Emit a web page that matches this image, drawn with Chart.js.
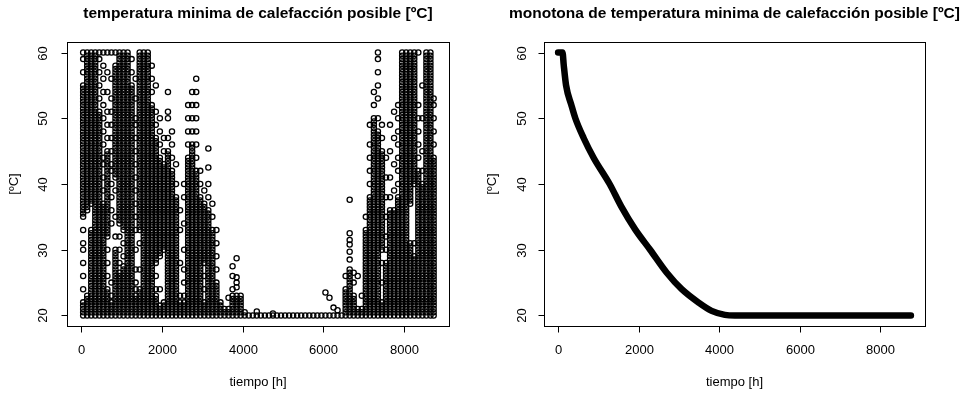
<!DOCTYPE html>
<html>
<head>
<meta charset="utf-8">
<script src="https://cdn.jsdelivr.net/npm/chart.js@4"></script>
<style>
  html, body { margin: 0; padding: 0; background: #fff; }
  #graficos { display: flex; width: 964px; height: 396px; }
  canvas { display: block; }
</style>
</head>
<body>
<div id="graficos">
  <canvas id="gTemp" width="482" height="396"></canvas>
  <canvas id="gMono" width="482" height="396"></canvas>
</div>
<script>
const horas = [50,150,250,350,450,550,650,750,850,950,
  1050,1150,1250,1350,1450,1550,1650,1750,1850,1950,
  2050,2150,2250,2350,2450,2550,2650,2750,2850,2950,
  3050,3150,3250,3350,3450,3550,3650,3750,3850,3950,
  4050,4150,4250,4350,4450,4550,4650,4750,4850,4950,
  5050,5150,5250,5350,5450,5550,5650,5750,5850,5950,
  6050,6150,6250,6350,6450,6550,6650,6750,6850,6950,
  7050,7150,7250,7350,7450,7550,7650,7750,7850,7950,
  8050,8150,8250,8350,8450,8550,8650,8730];

// tramo lleno de puntos entre 20 y 60 ºC
const llena = [20,20.5,21,21.5,22,22.5,23,23.5,24,24.5,25,25.5,26,26.5,27,27.5,28,28.5,29,29.5,30,30.5,31,31.5,32,32.5,33,33.5,34,34.5,35,35.5,36,36.5,37,37.5,38,38.5,39,39.5,40,40.5,41,41.5,42,42.5,43,43.5,44,44.5,45,45.5,46,46.5,47,47.5,48,48.5,49,49.5,50,50.5,51,51.5,52,52.5,53,53.5,54,54.5,55,55.5,56,56.5,57,57.5,58,58.5,59,59.5,60];

const tempMin = [
  [20,20.5,21,21.5,22,24,26,28,30,31,33,35,35.5,36,36.5,37,37.5,38,38.5,39,39.5,40,40.5,41,41.5,42,42.5,43,43.5,44,44.5,45,45.5,46,46.5,47,47.5,48,48.5,49,49.5,50,50.5,51,51.5,52,52.5,53,53.5,54,54.5,55,57,59,60],
  [20,20.5,21,21.5,22,22.5,23,36,36.5,37,37.5,38,38.5,39,39.5,40,40.5,41,41.5,42,42.5,43,43.5,44,44.5,45,45.5,46,46.5,47,47.5,48,48.5,49,49.5,50,50.5,51,51.5,52,52.5,53,53.5,54,54.5,55,55.5,56,56.5,57,57.5,58,58.5,59,59.5,60],
  [20,20.5,21,21.5,22,22.5,23,23.5,24,24.5,25,25.5,26,26.5,27,27.5,28,28.5,29,29.5,30,30.5,31,31.5,32,32.5,33,37,37.5,38,38.5,39,39.5,40,40.5,41,41.5,42,42.5,43,43.5,44,44.5,45,45.5,46,46.5,47,47.5,48,48.5,49,49.5,50,50.5,51,51.5,52,52.5,53,53.5,54,54.5,55,55.5,56,56.5,57,57.5,58,58.5,59,59.5,60],
  llena,
  [20,20.5,21,21.5,22,22.5,23,23.5,24,24.5,25,25.5,26,26.5,27,27.5,28,28.5,29,29.5,30,30.5,31,31.5,32,32.5,33,33.5,34,34.5,35,35.5,36,36.5,37,37.5,38,38.5,39,39.5,40,40.5,41,41.5,42,42.5,43,43.5,44,44.5,45,45.5,46,46.5,47,47.5,48,48.5,49,49.5,50,50.5,51,53,55,57,59,60],
  [20,20.5,21,21.5,22,22.5,23,23.5,24,24.5,25,25.5,26,26.5,27,27.5,28,28.5,29,29.5,30,30.5,31,31.5,32,32.5,33,33.5,34,34.5,35,35.5,36,36.5,37,39,41,43,44,46,48,50,52,54,56,58,60],
  [20,20.5,21,21.5,22,22.5,23,23.5,24,26,28,30,32,32.5,33,33.5,34,34.5,35,35.5,36,36.5,37,37.5,38,38.5,39,39.5,40,40.5,41,41.5,42,42.5,43,43.5,44,44.5,45,47,49,51,54,57,60],
  [20,20.5,21,21.5,22,23,25,34,36,38,40,42,43,45,47,49,51,53,56,60],
  [20,20.5,21,21.5,22,22.5,23,23.5,24,24.5,25,25.5,26,26.5,27,27.5,28,28.5,29,29.5,30,32,35,39,41,41.5,42,42.5,43,43.5,44,44.5,45,45.5,46,46.5,47,47.5,48,48.5,49,49.5,50,50.5,51,51.5,52,52.5,53,53.5,54,54.5,55,55.5,56,56.5,57,57.5,58,60],
  [20,20.5,21,21.5,22,22.5,23,23.5,24,24.5,25,25.5,26,26.5,28,30,32,34,34.5,35,35.5,36,36.5,37,37.5,38,38.5,39,39.5,40,40.5,41,41.5,42,42.5,43,43.5,44,44.5,45,45.5,46,46.5,47,47.5,48,48.5,49,49.5,50,50.5,51,51.5,52,52.5,53,53.5,54,54.5,55,55.5,56,56.5,57,57.5,58,58.5,59,59.5,60],
  [20,20.5,21,21.5,22,22.5,23,23.5,24,24.5,25,25.5,26,26.5,27,27.5,29,31,33,33.5,34,34.5,35,35.5,36,36.5,37,37.5,38,38.5,39,39.5,40,40.5,41,41.5,42,42.5,43,43.5,44,44.5,45,45.5,46,46.5,47,47.5,48,48.5,49,49.5,50,50.5,51,51.5,52,52.5,53,53.5,54,54.5,55,55.5,56,56.5,57,57.5,58,58.5,59,59.5,60],
  llena,
  [20,20.5,21,21.5,22,22.5,23,23.5,24,24.5,25,25.5,26,26.5,27,27.5,28,28.5,29,29.5,30,30.5,31,31.5,32,32.5,33,33.5,34,34.5,35,35.5,36,36.5,37,37.5,38,38.5,39,39.5,40,40.5,41,41.5,42,42.5,43,43.5,44,44.5,45,45.5,46,46.5,47,47.5,48,48.5,49,49.5,50,50.5,51,51.5,52,52.5,53,53.5,54,54.5,55,57,59],
  [20,20.5,21,21.5,22,22.5,23,24,25,27,30,33,35,37,39,41,43,45,47,49,50,53,56],
  [20,20.5,21,21.5,22,22.5,23,23.5,24,27,31,33,33.5,34,34.5,35,35.5,36,36.5,37,37.5,38,38.5,39,39.5,40,40.5,41,41.5,42,42.5,43,43.5,44,44.5,45,45.5,46,46.5,47,47.5,48,48.5,49,49.5,50,50.5,51,51.5,52,52.5,53,53.5,54,54.5,55,55.5,56,56.5,57,57.5,58,58.5,59,59.5,60],
  llena,
  llena,
  [20,20.5,21,21.5,22,22.5,23,23.5,24,24.5,25,25.5,26,26.5,27,27.5,28,28.5,29,29.5,30,30.5,31,31.5,32,32.5,33,33.5,34,34.5,35,35.5,36,36.5,37,37.5,38,38.5,39,39.5,40,40.5,41,41.5,42,42.5,43,43.5,44,44.5,45,45.5,46,46.5,47,47.5,48,48.5,49,49.5,50,50.5,51,51.5,52,54,56,58],
  [20,20.5,21,21.5,22,22.5,23,24,26,28,28.5,29,29.5,30,30.5,31,31.5,32,32.5,33,33.5,34,34.5,35,35.5,36,36.5,37,37.5,38,38.5,39,39.5,40,40.5,41,41.5,42,42.5,43,43.5,44,44.5,45,45.5,46,46.5,47,49,51,55],
  [20,20.5,21,21.5,24,29,29.5,30,30.5,31,31.5,32,32.5,33,33.5,34,34.5,35,35.5,36,36.5,37,37.5,38,38.5,39,39.5,40,40.5,41,41.5,42,42.5,43,43.5,44,46,48,50],
  [20,20.5,21,21.5,22,30,30.5,31,31.5,32,32.5,33,33.5,34,34.5,35,35.5,36,36.5,37,37.5,38,38.5,39,39.5,40,40.5,41,41.5,42,42.5,43,45,47],
  [20,20.5,21,21.5,22,22.5,23,23.5,24,24.5,25,25.5,26,26.5,27,27.5,28,28.5,29,29.5,30,30.5,31,31.5,32,32.5,33,33.5,34,34.5,35,35.5,36,36.5,37,37.5,38,38.5,39,39.5,40,40.5,41,41.5,42,42.5,43,43.5,44,44.5,45,47,50,51,54],
  [20,20.5,21,21.5,22,22.5,23,23.5,24,24.5,25,25.5,26,26.5,27,27.5,28,28.5,29,29.5,30,30.5,31,31.5,32,32.5,33,33.5,34,34.5,35,35.5,36,36.5,37,37.5,38,38.5,39,39.5,40,40.5,41,41.5,42,44,46,48],
  [20,20.5,21,21.5,22,22.5,23,23.5,24,24.5,25,25.5,26,26.5,27,27.5,28,28.5,29,29.5,30,30.5,31,31.5,32,32.5,33,33.5,34,34.5,35,35.5,36,36.5,37,37.5,38,40,43],
  [20,20.5,21,21.5,22,23,28,33,36],
  [20,20.5,21,21.5,22,23,25,27,30,34,38,40],
  [20,20.5,21,21.5,22,22.5,23,23.5,24,24.5,25,25.5,26,26.5,27,27.5,28,28.5,29,29.5,30,30.5,31,31.5,32,32.5,33,33.5,34,34.5,35,35.5,36,36.5,37,37.5,38,38.5,39,39.5,40,40.5,41,41.5,42,42.5,43,43.5,44,46,48,50,52],
  [20,20.5,21,21.5,22,22.5,23,23.5,24,24.5,25,25.5,26,26.5,27,27.5,28,28.5,29,29.5,30,30.5,31,31.5,32,32.5,33,33.5,34,34.5,35,35.5,36,36.5,37,37.5,38,38.5,39,39.5,40,40.5,41,41.5,42,42.5,43,43.5,44,44.5,45,45.5,46,48,50,52,54],
  [20,20.5,21,21.5,22,22.5,23,23.5,24,24.5,25,25.5,26,26.5,27,27.5,28,28.5,29,29.5,30,30.5,31,31.5,32,32.5,33,33.5,34,34.5,35,35.5,36,36.5,37,37.5,38,38.5,39,39.5,40,40.5,41,41.5,42,44,46,48,50,52,54,56],
  [20,20.5,21,21.5,22,22.5,23,23.5,24,24.5,25,25.5,26,26.5,27,27.5,28,28.5,29,29.5,30,30.5,31,31.5,32,32.5,33,33.5,34,34.5,35,35.5,36,36.5,37,37.5,38,40,42],
  [20,20.5,21,21.5,22,24,26,28,28.5,29,29.5,30,30.5,31,31.5,32,32.5,33,33.5,34,34.5,35,35.5,36,36.5,37,39],
  [20,20.5,21,21.5,22,22.5,23,23.5,24,24.5,25,25.5,26,26.5,27,27.5,28,28.5,29,29.5,30,30.5,31,31.5,32,32.5,33,33.5,34,34.5,35,35.5,36,38,40,42.5,45.4],
  [20,20.5,21,21.5,22,22.5,23,23.5,24,24.5,25,25.5,26,26.5,27,27.5,28,28.5,29,29.5,30,30.5,31,31.5,32,32.5,33,35,37],
  [20,20.5,21,21.5,22,22.5,23,23.5,24,24.5,25,27,29,31,33],
  [20,20.5,21,21.5,22],
  [20,20.5,21],
  [20,20.5,21,22.7],
  [20,20.5,21,21.5,22,22.5,23,24,26,27.5],
  [20,20.5,21,21.5,22,22.5,23,24.3,25,25.8,28.7],
  [20,20.5,21,21.5,22,22.5,23],
  [20,20.5],
  [20],
  [20],
  [20,20.6],
  [20],
  [20],
  [20],
  [20,20.3],
  [20],
  [20],
  [20],
  [20],
  [20],
  [20],
  [20],
  [20],
  [20],
  [20],
  [20],
  [20],
  [20,23.5],
  [20,22.7],
  [20,21.2],
  [20,20.8],
  [20],
  [20,20.5,21,21.5,22,22.5,23,23.5,24,26],
  [20,20.5,21,21.5,22,22.5,23,23.5,24,24.5,25,25.5,26,26.5,27,28.5,29.7,30.8,31.5,32.5,37.6],
  [20,20.5,21,21.5,22,22.5,23,25,26.5],
  [20,20.5,21,26],
  [20,20.5,21,23],
  [20,20.5,21,21.5,22,22.5,23,23.5,24,24.5,25,25.5,26,26.5,27,27.5,28,28.5,29,29.5,30,30.5,31,31.5,32,32.5,33,35],
  [20,20.5,21,21.5,22,22.5,23,23.5,24,24.5,25,25.5,26,26.5,27,27.5,28,28.5,29,29.5,30,30.5,31,31.5,32,32.5,33,33.5,34,34.5,35,35.5,36,36.5,37,37.5,38,40,42,44,46,49],
  [20,20.5,21,21.5,22,22.5,23,23.5,24,24.5,25,25.5,26,26.5,27,27.5,28,28.5,29,29.5,30,30.5,31,31.5,32,32.5,33,33.5,34,34.5,35,35.5,36,36.5,37,37.5,38,38.5,39,39.5,40,40.5,41,41.5,42,42.5,43,43.5,44,44.5,45,45.5,46,46.5,47,47.5,48,48.5,49,49.5,50,52,54],
  [20,20.5,21,21.5,22,22.5,23,23.5,24,24.5,25,25.5,26,26.5,27,27.5,28,28.5,29,29.5,30,30.5,31,31.5,32,32.5,33,33.5,34,34.5,35,35.5,36,36.5,37,37.5,38,38.5,39,39.5,40,40.5,41,41.5,42,42.5,43,43.5,44,44.5,45,45.5,46,46.5,47,47.5,48,50,53,55,57,59,60],
  [20,20.5,21,21.5,22,25,28,30,30.5,31,31.5,32,32.5,33,33.5,34,34.5,35,35.5,36,36.5,37,37.5,38,38.5,39,39.5,40,40.5,41,41.5,42,42.5,43,43.5,44,44.5,45,47,49],
  [20,20.5,21,21.5,22,22.5,23,23.5,24,24.5,25,25.5,26,26.5,27,27.5,28,30,32,35,38,41,44],
  [20,20.5,21,21.5,22,22.5,23,23.5,24,24.5,25,25.5,26,26.5,27,27.5,28,28.5,29,29.5,30,30.5,31,31.5,32,32.5,33,33.5,34,34.5,35,35.5,36,38,41,45,49],
  [20,20.5,21,21.5,22,22.5,23,23.5,24,24.5,25,25.5,26,26.5,27,27.5,28,28.5,29,29.5,30,30.5,31,31.5,32,32.5,33,33.5,34,34.5,35,35.5,36,39,43,47,51],
  [20,20.5,21,21.5,22,22.5,23,23.5,24,24.5,25,25.5,26,26.5,27,27.5,28,28.5,29,29.5,30,30.5,31,31.5,32,32.5,33,33.5,34,34.5,35,35.5,36,36.5,37,37.5,38,40,42,44,46,48,50,52],
  llena,
  llena,
  [20,20.5,21,21.5,22,22.5,23,23.5,24,24.5,25,25.5,26,26.5,27,27.5,28,28.5,29,29.5,30,30.5,31,37,37.5,38,38.5,39,39.5,40,40.5,41,41.5,42,42.5,43,43.5,44,44.5,45,45.5,46,46.5,47,47.5,48,48.5,49,49.5,50,50.5,51,51.5,52,52.5,53,53.5,54,54.5,55,55.5,56,56.5,57,57.5,58,58.5,59,59.5,60],
  [20,20.5,21,21.5,22,22.5,23,23.5,24,24.5,25,25.5,26,26.5,27,27.5,28,28.5,29,31,40,40.5,41,41.5,42,42.5,43,43.5,44,44.5,45,45.5,46,46.5,47,47.5,48,48.5,49,49.5,50,50.5,51,51.5,52,52.5,53,53.5,54,54.5,55,55.5,56,56.5,57,57.5,58,58.5,59,59.5,60],
  [20,20.5,21,21.5,22,22.5,23,23.5,24,24.5,25,25.5,26,26.5,27,27.5,28,28.5,29,29.5,30,30.5,31,31.5,32,32.5,33,33.5,34,34.5,35,35.5,36,36.5,37,37.5,38,38.5,39,39.5,40,40.5,41,41.5,42,44,46,48,50,52,60],
  [20,20.5,21,21.5,22,22.5,23,23.5,24,24.5,25,25.5,26,26.5,27,27.5,28,28.5,29,29.5,30,30.5,31,31.5,32,32.5,33,33.5,34,34.5,35,35.5,36,36.5,37,37.5,38,38.5,39,39.5,40,42,45,50,55],
  llena,
  llena,
  [20,20.5,21,21.5,22,22.5,23,23.5,24,24.5,25,25.5,26,26.5,27,27.5,28,28.5,29,29.5,30,30.5,31,31.5,32,32.5,33,33.5,34,34.5,35,35.5,36,36.5,37,37.5,38,38.5,39,39.5,40,40.5,41,41.5,42,42.5,43,43.5,44,46,48,50,52,53]
];

// Curva monotona (valores ordenados de mayor a menor)
const horasOrden = [0,110,140,198,330,428,634,881,1280,1567,1913,2285,2698,3069,3480,3812,4141,4389,8760];
const tempOrden  = [60,60,58.1,55.0,52.0,50.0,47.0,44.0,40.0,36.6,33.1,30.0,26.5,24.0,22.0,20.7,20.1,20.0,20.0];

// Marcas de los ejes
const ticksX = [0,2000,4000,6000,8000];
const ticksY = [20,30,40,50,60];

const fuente = '"Liberation Sans", Arial, sans-serif';

// Ejes al estilo de R: caja, marcas hacia fuera y etiquetas giradas
const ejesR = {
  id: 'ejesR',
  afterDraw(chart, args, opts) {
    const { ctx, chartArea: a, scales: { x, y } } = chart;
    ctx.save();
    ctx.strokeStyle = '#000';
    ctx.lineWidth = 1;
    ctx.strokeRect(Math.round(a.left) + 0.5, Math.round(a.top) + 0.5,
      Math.round(a.right - a.left), Math.round(a.bottom - a.top));

    ctx.fillStyle = '#000';
    ctx.font = '13px ' + fuente;
    ctx.textAlign = 'center';
    ctx.textBaseline = 'middle';
    const base = Math.round(a.bottom) + 0.5;
    ticksX.forEach(t => {
      const px = Math.round(x.getPixelForValue(t)) + 0.5;
      ctx.beginPath();
      ctx.moveTo(px, base);
      ctx.lineTo(px, base + 6);
      ctx.stroke();
      ctx.fillText(String(t), px, a.bottom + 24);
    });
    const izq = Math.round(a.left) + 0.5;
    ticksY.forEach(t => {
      const py = Math.round(y.getPixelForValue(t)) + 0.5;
      ctx.beginPath();
      ctx.moveTo(izq, py);
      ctx.lineTo(izq - 6, py);
      ctx.stroke();
      ctx.save();
      ctx.translate(a.left - opts.sepTicks, py);
      ctx.rotate(-Math.PI / 2);
      ctx.fillText(String(t), 0, 0);
      ctx.restore();
    });

    // titulos de ejes
    ctx.fillText('tiempo [h]', (a.left + a.right) / 2, a.bottom + 56);
    ctx.save();
    ctx.translate(a.left - opts.sepTitulo, (a.top + a.bottom) / 2);
    ctx.rotate(-Math.PI / 2);
    ctx.fillText('[ºC]', 0, 0);
    ctx.restore();

    // titulo principal
    ctx.font = 'bold 15.5px ' + fuente;
    ctx.fillText(opts.titulo, (a.left + a.right) / 2, 14);
    ctx.restore();
  }
};

function escalas() {
  return {
    x: { type: 'linear', display: false, min: -350, max: 9110 },
    y: { type: 'linear', display: false, min: 18.4, max: 61.6 }
  };
}

const puntos = [];
horas.forEach((h, i) => {
  tempMin[i].forEach(t => puntos.push({ x: h, y: t }));
});

new Chart(document.getElementById('gTemp'), {
  type: 'scatter',
  data: {
    datasets: [{
      data: puntos,
      pointStyle: 'circle',
      pointRadius: 2.6,
      pointBorderWidth: 1.3,
      pointBorderColor: '#000',
      pointBackgroundColor: 'rgba(0,0,0,0)'
    }]
  },
  options: {
    responsive: false,
    animation: false,
    layout: { padding: { left: 67, right: 33, top: 42, bottom: 70 } },
    scales: escalas(),
    plugins: {
      legend: { display: false },
      tooltip: { enabled: false },
      ejesR: { titulo: 'temperatura minima de calefacción posible [ºC]', sepTicks: 24, sepTitulo: 53 }
    }
  },
  plugins: [ejesR]
});

new Chart(document.getElementById('gMono'), {
  type: 'line',
  data: {
    datasets: [{
      data: horasOrden.map((h, i) => ({ x: h, y: tempOrden[i] })),
      borderColor: '#000',
      borderWidth: 6.5,
      borderCapStyle: 'round',
      borderJoinStyle: 'round',
      cubicInterpolationMode: 'monotone',
      pointRadius: 0,
      fill: false
    }]
  },
  options: {
    responsive: false,
    animation: false,
    layout: { padding: { left: 62, right: 39, top: 42, bottom: 70 } },
    scales: escalas(),
    plugins: {
      legend: { display: false },
      tooltip: { enabled: false },
      ejesR: { titulo: 'monotona de temperatura minima de calefacción posible [ºC]', sepTicks: 22, sepTitulo: 52 }
    }
  },
  plugins: [ejesR]
});
</script>
</body>
</html>
